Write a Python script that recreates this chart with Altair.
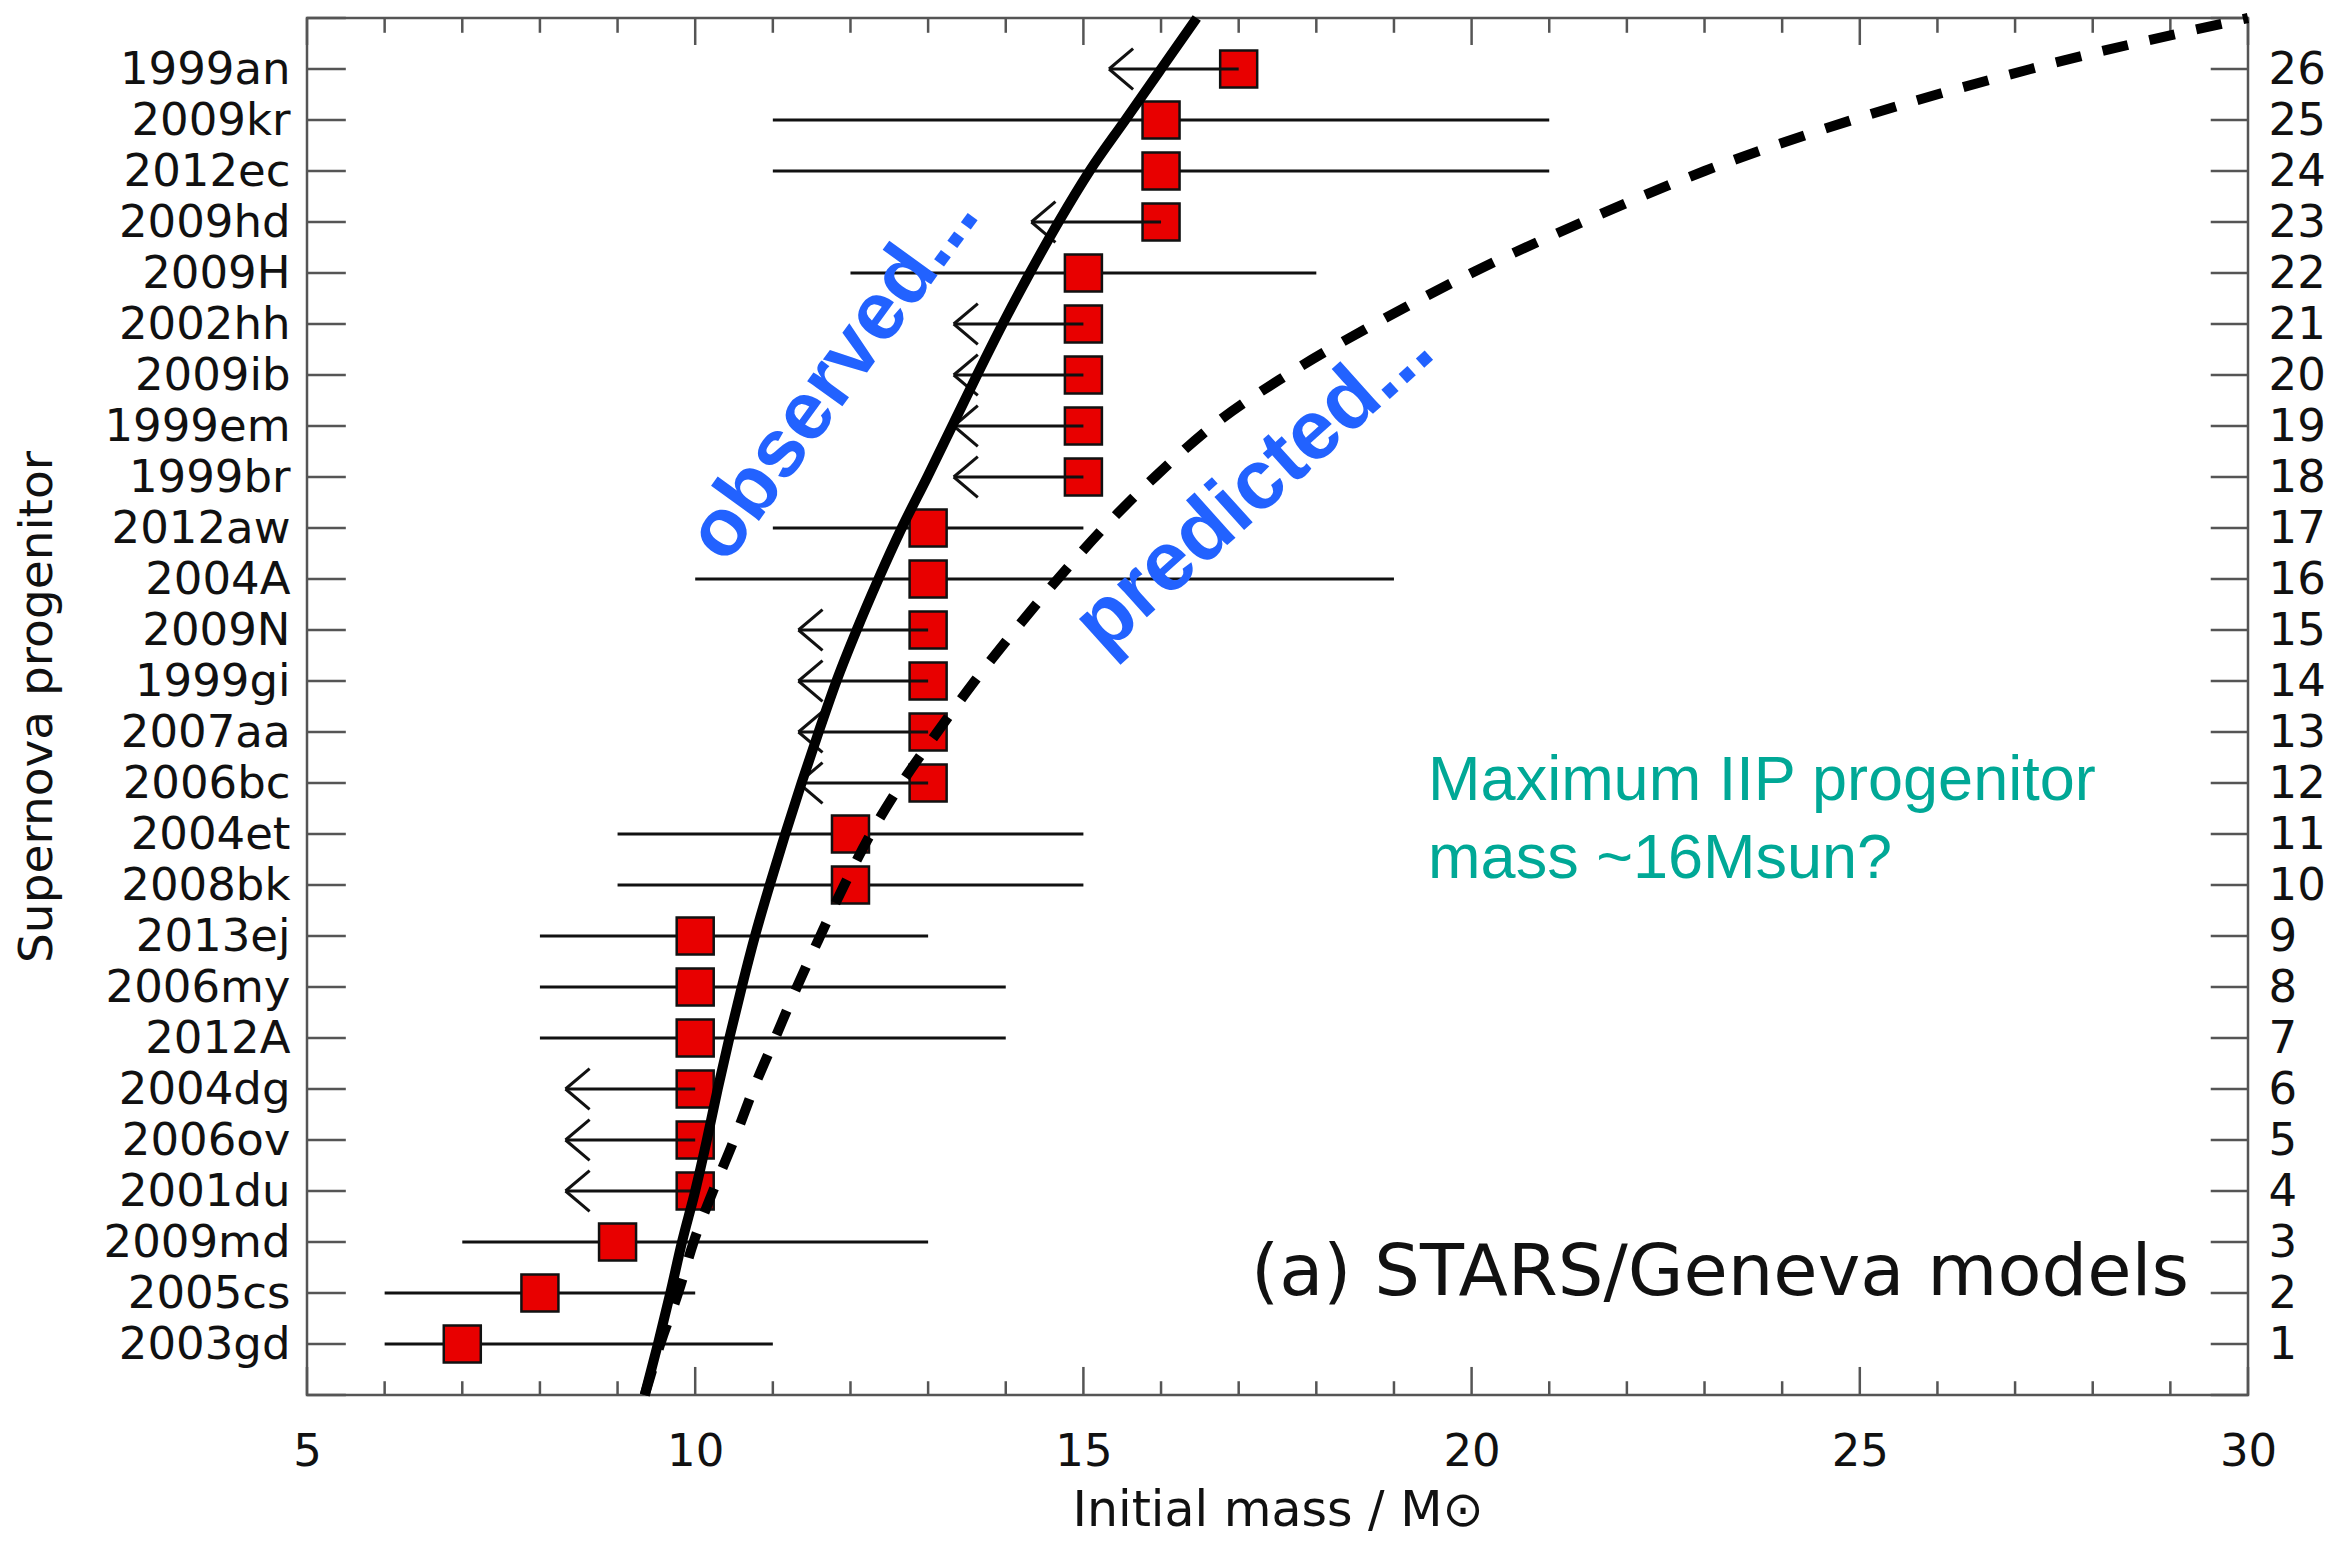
import altair as alt
import pandas as pd

# ---------------- data ----------------
NAMES = ["2003gd", "2005cs", "2009md", "2001du", "2006ov", "2004dg", "2012A",
         "2006my", "2013ej", "2008bk", "2004et", "2006bc", "2007aa", "1999gi",
         "2009N", "2004A", "2012aw", "1999br", "1999em", "2009ib", "2002hh",
         "2009H", "2009hd", "2012ec", "2009kr", "1999an"]
MASS = [7, 8, 9, 10, 10, 10, 10, 10, 10, 12, 12, 13, 13, 13, 13, 13, 13,
        15, 15, 15, 15, 15, 16, 16, 16, 17]
ERR_LOW = [6, 6, 7, None, None, None, 8, 8, 8, 9, 9, None, None, None, None,
           10, 11, None, None, None, None, 12, None, 11, 11, None]
ERR_HIGH = [11, 10, 13, None, None, None, 14, 14, 13, 15, 15, None, None, None, None,
            19, 15, None, None, None, None, 18, None, 21, 21, None]
LIMIT_TIP = [None, None, None, 8.33, 8.33, 8.33, None, None, None, None, None,
             11.33, 11.33, 11.33, 11.33, None, None, 13.33, 13.33, 13.33, 13.33,
             None, 14.33, None, None, 15.33]

SOLID_ROW = list(range(28))
SOLID_MASS = [9.35, 9.52, 9.68, 9.83, 10.0, 10.15, 10.29, 10.44, 10.6, 10.77,
              10.96, 11.16, 11.37, 11.59, 11.82, 12.08, 12.36, 12.66, 12.99, 13.31,
              13.63, 13.96, 14.31, 14.68, 15.08, 15.54, 16.0, 16.46]

DASH_ROW = list(range(28))
DASH_MASS = [9.35, 9.55, 9.78, 9.98, 10.23, 10.5, 10.75, 11.03, 11.31, 11.61,
             11.92, 12.26, 12.66, 13.12, 13.6, 14.12, 14.67, 15.26, 15.92, 16.66,
             17.62, 18.75, 20.0, 21.43, 23.0, 24.9, 27.2, 30.0]

X_MINOR = list(range(5, 31))
X_MAJOR = [5, 10, 15, 20, 25, 30]
Y_TICKS = list(range(0, 28))
Y_LABELED = list(range(1, 27))

# ---------------- styling constants ----------------
W, H = 1941, 1377
LABEL_FONT = "DejaVu Sans"
RED = "#e80000"
BLUE = "#2262ff"
TEAL = "#00a896"
AXIS_GREY = "#555555"
ARM_DX, ARM_DY = 0.31, 0.4

XS = alt.Scale(domain=[5, 30], nice=False, zero=False)
YS = alt.Scale(domain=[0, 27], nice=False, zero=False)

X_AXIS = alt.Axis(values=X_MAJOR, format="d", title="Initial mass / M\u2299",
                  ticks=False, domain=False, grid=False, labelFlush=False,
                  labelFont=LABEL_FONT, labelFontSize=45, labelColor="#111",
                  labelPadding=34, titleFont=LABEL_FONT, titleFontSize=49,
                  titleFontWeight="normal", titleColor="#111", titlePadding=12)

names_js = "[" + ",".join("'%s'" % n for n in NAMES) + "]"
LEFT_AXIS = alt.Axis(orient="left", values=Y_LABELED,
                     labelExpr=names_js + "[datum.value - 1]",
                     ticks=False, domain=False, grid=False, labelFlush=False,
                     labelLimit=0, labelOverlap=False,
                     labelFont=LABEL_FONT, labelFontSize=45, labelColor="#111",
                     labelPadding=17, title="Supernova progenitor",
                     titleFont=LABEL_FONT, titleFontSize=47,
                     titleFontWeight="normal", titleColor="#111", titlePadding=46)
RIGHT_AXIS = alt.Axis(orient="right", values=Y_LABELED, format="d", title="",
                      ticks=False, domain=False, grid=False, labelFlush=False,
                      labelLimit=0, labelOverlap=False,
                      labelFont=LABEL_FONT, labelFontSize=45, labelColor="#111",
                      labelPadding=20)


def X(f):
    return alt.X(f + ":Q", scale=XS, axis=X_AXIS)


def Y(f, axis=None):
    return alt.Y(f + ":Q", scale=YS, axis=axis)


# ---------------- tables ----------------
sn = pd.DataFrame({"name": NAMES, "row": list(range(1, 27)), "mass": MASS,
                   "lo": ERR_LOW, "hi": ERR_HIGH, "tip": LIMIT_TIP})
err = sn.dropna(subset=["lo"])
lim = sn.dropna(subset=["tip"])

heads = pd.concat([
    pd.DataFrame({"x": lim.tip, "y": lim.row, "x2": lim.tip + ARM_DX, "y2": lim.row + ARM_DY}),
    pd.DataFrame({"x": lim.tip, "y": lim.row, "x2": lim.tip + ARM_DX, "y2": lim.row - ARM_DY}),
])

solid = pd.DataFrame({"row": SOLID_ROW, "mass": SOLID_MASS})
dash = pd.DataFrame({"row": DASH_ROW, "mass": DASH_MASS})

xt = pd.DataFrame({"x": X_MINOR})
xt["major"] = xt.x % 5 == 0
xt["b2"] = xt.major.map({True: 0.55, False: 0.27})
xt["t1"] = 27
xt["t2"] = 27 - xt.major.map({True: 0.53, False: 0.29})
xt["b1"] = 0

yt = pd.DataFrame({"row": Y_TICKS})
yt["l1"], yt["l2"] = 5, 5.5
yt["r1"], yt["r2"] = 30, 29.52

# ---------------- layers ----------------
errbars = alt.Chart(err).mark_rule(color="#111", strokeWidth=3).encode(
    x=X("lo"), x2="hi", y=Y("row"))

squares = alt.Chart(sn).mark_square(size=1370, filled=True, fill=RED, stroke="#111",
                                    strokeWidth=2.5, opacity=1).encode(
    x=X("mass"), y=Y("row"))

shafts = alt.Chart(lim).mark_rule(color="#111", strokeWidth=3).encode(
    x=X("tip"), x2="mass", y=Y("row"))

arrowheads = alt.Chart(heads).mark_rule(color="#111", strokeWidth=3).encode(
    x=X("x"), x2="x2", y=Y("y"), y2="y2")

solid_line = alt.Chart(solid).mark_line(color="black", strokeWidth=10, strokeCap="butt",
                                        interpolate="monotone").encode(
    x=X("mass"), y=Y("row"), order="row:Q")

dash_line = alt.Chart(dash).mark_line(color="black", strokeWidth=10, strokeCap="butt",
                                      strokeDash=[26, 22], interpolate="monotone").encode(
    x=X("mass"), y=Y("row"), order="row:Q")

bottom_ticks = alt.Chart(xt).mark_rule(color=AXIS_GREY, strokeWidth=2.5).encode(
    x=X("x"), y=Y("b1"), y2="b2")
top_ticks = alt.Chart(xt).mark_rule(color=AXIS_GREY, strokeWidth=2.5).encode(
    x=X("x"), y=Y("t1"), y2="t2")
left_ticks = alt.Chart(yt).mark_rule(color=AXIS_GREY, strokeWidth=2.5).encode(
    x=X("l1"), x2="l2", y=Y("row", LEFT_AXIS))
right_ticks = alt.Chart(yt).mark_rule(color=AXIS_GREY, strokeWidth=2.5).encode(
    x=X("r1"), x2="r2", y=Y("row", RIGHT_AXIS))

obs_txt = alt.Chart(pd.DataFrame({"x": [11.78], "y": [19.98], "t": ["observed..."]})).mark_text(
    angle=306, font="Liberation Sans", fontWeight="bold", fontSize=82, color=BLUE,
    align="center", baseline="middle").encode(x=X("x"), y=Y("y"), text="t:N")

pred_txt = alt.Chart(pd.DataFrame({"x": [17.2], "y": [17.8], "t": ["predicted..."]})).mark_text(
    angle=318, font="Liberation Sans", fontWeight="bold", fontSize=84, color=BLUE,
    align="center", baseline="middle").encode(x=X("x"), y=Y("y"), text="t:N")

teal_txt = alt.Chart(pd.DataFrame({"x": [19.44, 19.44], "y": [11.67, 10.14],
                                   "t": ["Maximum IIP progenitor", "mass ~16Msun?"]})).mark_text(
    font="Liberation Sans", fontSize=63, color=TEAL, align="left",
    baseline="alphabetic").encode(x=X("x"), y=Y("y"), text="t:N")

model_txt = alt.Chart(pd.DataFrame({"x": [29.24], "y": [1.96], "t": ["(a) STARS/Geneva models"]})).mark_text(
    font=LABEL_FONT, fontSize=72, color="#111", align="right",
    baseline="alphabetic").encode(x=X("x"), y=Y("y"), text="t:N")

chart = alt.layer(
    bottom_ticks, top_ticks, left_ticks, right_ticks,
    errbars, squares, shafts, arrowheads, solid_line, dash_line,
    obs_txt, pred_txt, teal_txt, model_txt,
).resolve_scale(y="independent").properties(
    width=W, height=H,
    padding={"left": 307, "top": 18, "right": 97, "bottom": 155},
    autosize=alt.AutoSizeParams(type="none"),
    background="white",
).configure_view(stroke=AXIS_GREY, strokeWidth=2.5)

chart.save("out.html", embed_options={"renderer": "svg", "actions": False})
